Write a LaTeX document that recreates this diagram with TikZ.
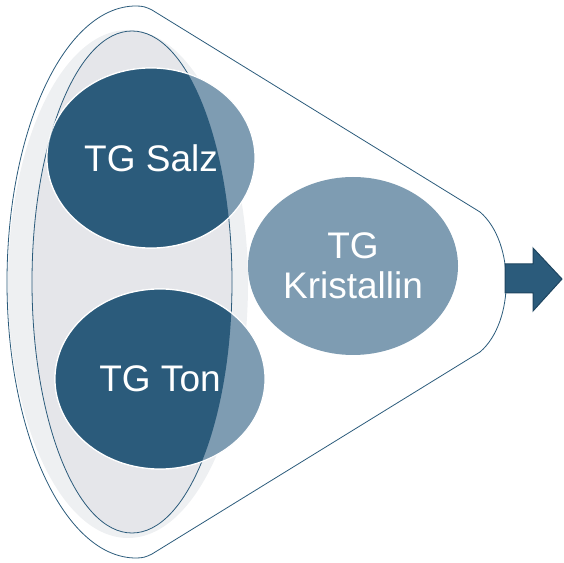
\documentclass[tikz,border=0pt]{standalone}
\usepackage{fontspec}
\setmainfont{Liberation Sans}
\usepackage{tikz}
\usetikzlibrary{calc}
\definecolor{tgdark}{HTML}{2B5B7B}
\definecolor{tglight}{HTML}{7E9CB2}
\definecolor{tgband}{HTML}{EEF0F2}
\definecolor{tggray}{HTML}{E5E6EA}
\definecolor{tgedge}{HTML}{1E4560}
\tikzset{tglabel/.style={text=white,font=\fontsize{37}{40}\selectfont,align=center,inner sep=0pt}}

\begin{document}
\begin{tikzpicture}[x=1pt,y=1pt]
    \useasboundingbox(0,0)rectangle(564,562);
    \coordinate(G) at (128,278);
    \coordinate(I) at (132,280);
    \coordinate(S) at (151,404);
    \coordinate(T) at (160,183);
    \coordinate(K) at (353,296);
    % gray hulls
    \fill[tgband](G)ellipse[x radius=120,y radius=254];
    \filldraw[fill=tggray,draw=tgdark,line width=0.8pt](I)ellipse[x radius=100,y radius=251];
    % funnel
    \draw[tgdark,line width=0.8pt](136,556)arc[start angle=90,end angle=270,x radius=129,y radius=276]
      ..controls(143,4)and(146,5)..(152,8)--(480,210)
      ..controls(515,240)and(515,320)..(480,350)--(152,552)
      ..controls(146,555)and(143,556)..cycle;
    % ellipses
    \filldraw[fill=tglight,draw=white,line width=1.2pt](S)ellipse[x radius=104,y radius=90];
    \filldraw[fill=tglight,draw=white,line width=1.2pt](T)ellipse[x radius=105,y radius=90];
    \begin{scope}
      \clip(I)ellipse[x radius=100,y radius=251];
      \filldraw[fill=tgdark,draw=white,line width=1.2pt](S)ellipse[x radius=104,y radius=90];
      \filldraw[fill=tgdark,draw=white,line width=1.2pt](T)ellipse[x radius=105,y radius=90];
    \end{scope}
    \fill[tglight](K)ellipse[x radius=105,y radius=89];
    \node[tglabel](salz) at (S) {TG Salz};
    \node[tglabel](ton) at (T) {TG Ton};
    \node[tglabel](kristallin) at (K) {TG\\Kristallin};
    % arrow
    \filldraw[fill=tgdark,draw=tgedge,line width=1pt](505,298)--(533,298)--(533,314)--(562,283)--(533,251)--(533,269)--(505,269)--cycle;
  \end{tikzpicture}
\end{document}
